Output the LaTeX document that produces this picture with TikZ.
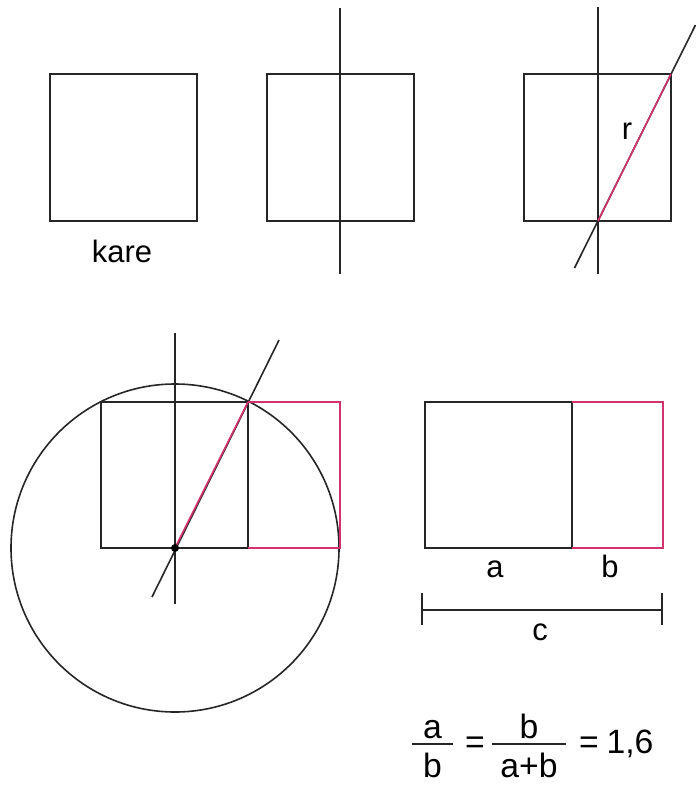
\documentclass[tikz,border=0pt]{standalone}
\usepackage{fontspec}
\setmainfont{Liberation Sans}
\definecolor{golden}{RGB}{210,50,110}

\begin{document}
\begin{tikzpicture}[
  x=0.25mm, y=-0.25mm,
  line width=0.4mm,
  font=\fontsize{22}{26}\selectfont,
  edge/.style={draw=black!85},
  gold/.style={draw=golden},
  lbl/.style={inner sep=0pt,anchor=base},
  eq/.style={lbl,font=\fontsize{24}{28}\selectfont}
]
  \useasboundingbox (0,0) rectangle (696,785);

  % step 1: kare
  \draw[edge] (50,74) rectangle (197,221);
  \node[lbl] (kare) at (122,262) {kare};

  % step 2: middle axis
  \coordinate (midTop) at (340,8);
  \coordinate (midBot) at (340,274);
  \draw[edge] (267,74) rectangle (414,221);
  \draw[edge] (midTop) -- (midBot);

  % step 3: diagonal r
  \coordinate (rAxisTop) at (598,7);
  \coordinate (rAxisBot) at (598,274);
  \coordinate (rFoot) at (598,221);
  \coordinate (rCorner) at (671,74);
  \draw[edge] (524,74) rectangle (671,221);
  \draw[edge] (rAxisTop) -- (rAxisBot);
  \draw[edge] (574.5,268) -- (695.5,25);
  \draw[gold] (rFoot) -- (rCorner);
  \node[lbl] (r) at (627,139) {r};

  % step 4: circle with radius r
  \coordinate (ctr) at (175,548);
  \coordinate (corner) at (248,402);
  \draw[edge] (ctr) circle (164);
  \draw[edge] (101,402) rectangle (248,548);
  \draw[edge] (175,333) -- (175,604);
  \draw[edge] (152,597) -- (279,340);
  \draw[gold] (ctr) -- (corner);
  \draw[gold] (248,402) -- (340,402) -- (340,548) -- (248,548);
  \fill (ctr) circle (4);

  % step 5: golden rectangle
  \coordinate (cLeft) at (422,610);
  \coordinate (cRight) at (662,610);
  \draw[edge] (425,402) rectangle (572,548);
  \draw[gold] (572,402) -- (663,402) -- (663,548) -- (572,548);
  \node[lbl] (a) at (495,577) {a};
  \node[lbl] (b) at (610,577) {b};
  \draw[edge] (cLeft) -- (cRight);
  \draw[edge] ([yshift=12]cLeft) -- ([yshift=-11]cLeft);
  \draw[edge] ([yshift=12]cRight) -- ([yshift=-11]cRight);
  \node[lbl] (c) at (540,640) {c};

  % ratio
  \node[eq] (numA) at (432.5,738) {a};
  \node[eq] (denB) at (432.5,777) {b};
  \draw[edge] (412,744) -- (453,744);
  \node[eq] (eqOne) at (475,753) {=};
  \node[eq] (numB) at (529,738) {b};
  \node[eq] (denAB) at (529,777) {a+b};
  \draw[edge] (492,744) -- (566,744);
  \node[eq] (eqTwo) at (589,753) {=};
  \node[eq] (gold) at (630,753) {1,6};
\end{tikzpicture}
\end{document}
